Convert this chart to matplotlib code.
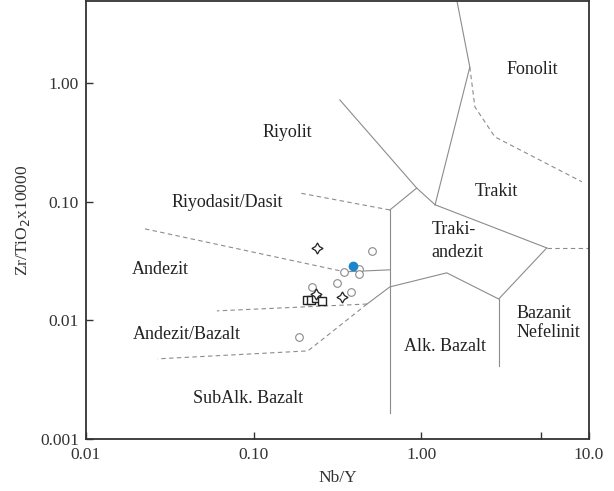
import matplotlib.pyplot as plt

plt.rcParams['font.family'] = ['Liberation Serif', 'DejaVu Serif']

# sample groups (Nb/Y, Zr/TiO2 x 10000)
circle_nb_y = [0.507, 0.345, 0.425, 0.425, 0.314, 0.380, 0.223, 0.186]
circle_zr_ti = [0.0385, 0.0256, 0.0271, 0.0246, 0.0207, 0.0173, 0.0191, 0.00725]

blue_nb_y = [0.391]
blue_zr_ti = [0.0287]

star_nb_y = [0.238, 0.337, 0.235]
star_zr_ti = [0.0407, 0.0157, 0.0167]

square_nb_y = [0.208, 0.220, 0.235, 0.255]
square_zr_ti = [0.0149, 0.0149, 0.0154, 0.0146]

# field boundaries, (x list, y list, dashed?)
boundaries = [
    ([0.327, 0.94, 1.21], [0.719, 0.130, 0.094], False),
    ([0.94, 0.65], [0.130, 0.085], False),
    ([0.65, 0.65], [0.085, 0.00166], False),
    ([0.65, 0.189], [0.085, 0.118], True),
    ([1.63, 1.95, 1.21], [5.0, 1.36, 0.094], False),
    ([1.95, 2.09, 2.75, 9.08], [1.36, 0.628, 0.351, 0.147], True),
    ([1.21, 5.61], [0.094, 0.0407], False),
    ([5.61, 10.0], [0.0407, 0.0407], True),
    ([5.61, 2.90, 1.42, 0.65, 0.475], [0.0407, 0.0151, 0.0251, 0.0191, 0.0137], False),
    ([2.90, 2.90], [0.0151, 0.00413], False),
    ([0.475, 0.211, 0.0268], [0.0137, 0.00552, 0.00473], True),
    ([0.475, 0.0604], [0.0137, 0.0120], True),
    ([0.0225, 0.35], [0.0589, 0.0256], True),
    ([0.35, 0.65], [0.0256, 0.0266], False),
]

# text, x, y, alignment, line spacing
field_labels = [
    ('Fonolit', 4.62, 1.29, 'center', 1.2),
    ('Riyolit', 0.160, 0.379, 'center', 1.2),
    ('Trakit', 2.82, 0.121, 'center', 1.2),
    ('Riyodasit/Dasit', 0.0693, 0.0975, 'center', 1.2),
    ('Traki-\nandezit', 1.156, 0.0467, 'left', 1.45),
    ('Andezit', 0.0276, 0.0266, 'center', 1.2),
    ('Andezit/Bazalt', 0.040, 0.00754, 'center', 1.2),
    ('Alk. Bazalt', 1.38, 0.00597, 'center', 1.2),
    ('Bazanit\nNefelinit', 3.72, 0.0095, 'left', 1.15),
    ('SubAlk. Bazalt', 0.0925, 0.00218, 'center', 1.2),
]

fig = plt.figure(figsize=(6.14, 4.91), dpi=100)
ax = fig.add_axes([0.140, 0.106, 0.819, 0.892])

for xs, ys, dashed in boundaries:
    ax.plot(xs, ys, color='#8c8c8c', lw=0.8, ls=(0, (4, 3)) if dashed else '-')

for text, x, y, ha, spacing in field_labels:
    ax.text(x, y, text, ha=ha, va='center', fontsize=13, color='#222222',
            linespacing=spacing)

ax.plot(circle_nb_y, circle_zr_ti, 'o', ms=5.5, mfc='white', mec='#8a8a8a', mew=0.8)
ax.plot(square_nb_y, square_zr_ti, 's', ms=5.5, mfc='white', mec='#222222', mew=1.0)
ax.plot(star_nb_y, star_zr_ti, marker=(4, 1, 0), ls='none', ms=8, mfc='white',
        mec='#222222', mew=0.9)
ax.plot(blue_nb_y, blue_zr_ti, 'o', ms=6, mfc='#1a86cc', mec='#1a86cc')

ax.set_xscale('log')
ax.set_yscale('log')
ax.set_xlim(0.01, 10.0)
ax.set_ylim(0.001, 4.9)

ax.set_xticks([0.01, 0.1, 1.0, 5.2, 10.0])
ax.set_xticklabels(['0.01', '0.10', '1.00', '', '10.0'])
ax.set_yticks([0.001, 0.01, 0.1, 1.0])
ax.set_yticklabels(['0.001', '0.01', '0.10', '1.00'])
ax.minorticks_off()
ax.tick_params(direction='in', length=5, width=1.0, labelsize=12.5,
               colors='#333333')
ax.tick_params(axis='x', pad=6)
ax.tick_params(axis='y', pad=5)

for spine in ax.spines.values():
    spine.set_color('#333333')
    spine.set_linewidth(1.3)

ax.set_xlabel('Nb/Y', fontsize=12.5, color='#333333', labelpad=5)
ax.set_ylabel('Zr/TiO$_2$x10000', fontsize=12.5, color='#333333', labelpad=6)

fig.savefig('out.png', dpi=100)
